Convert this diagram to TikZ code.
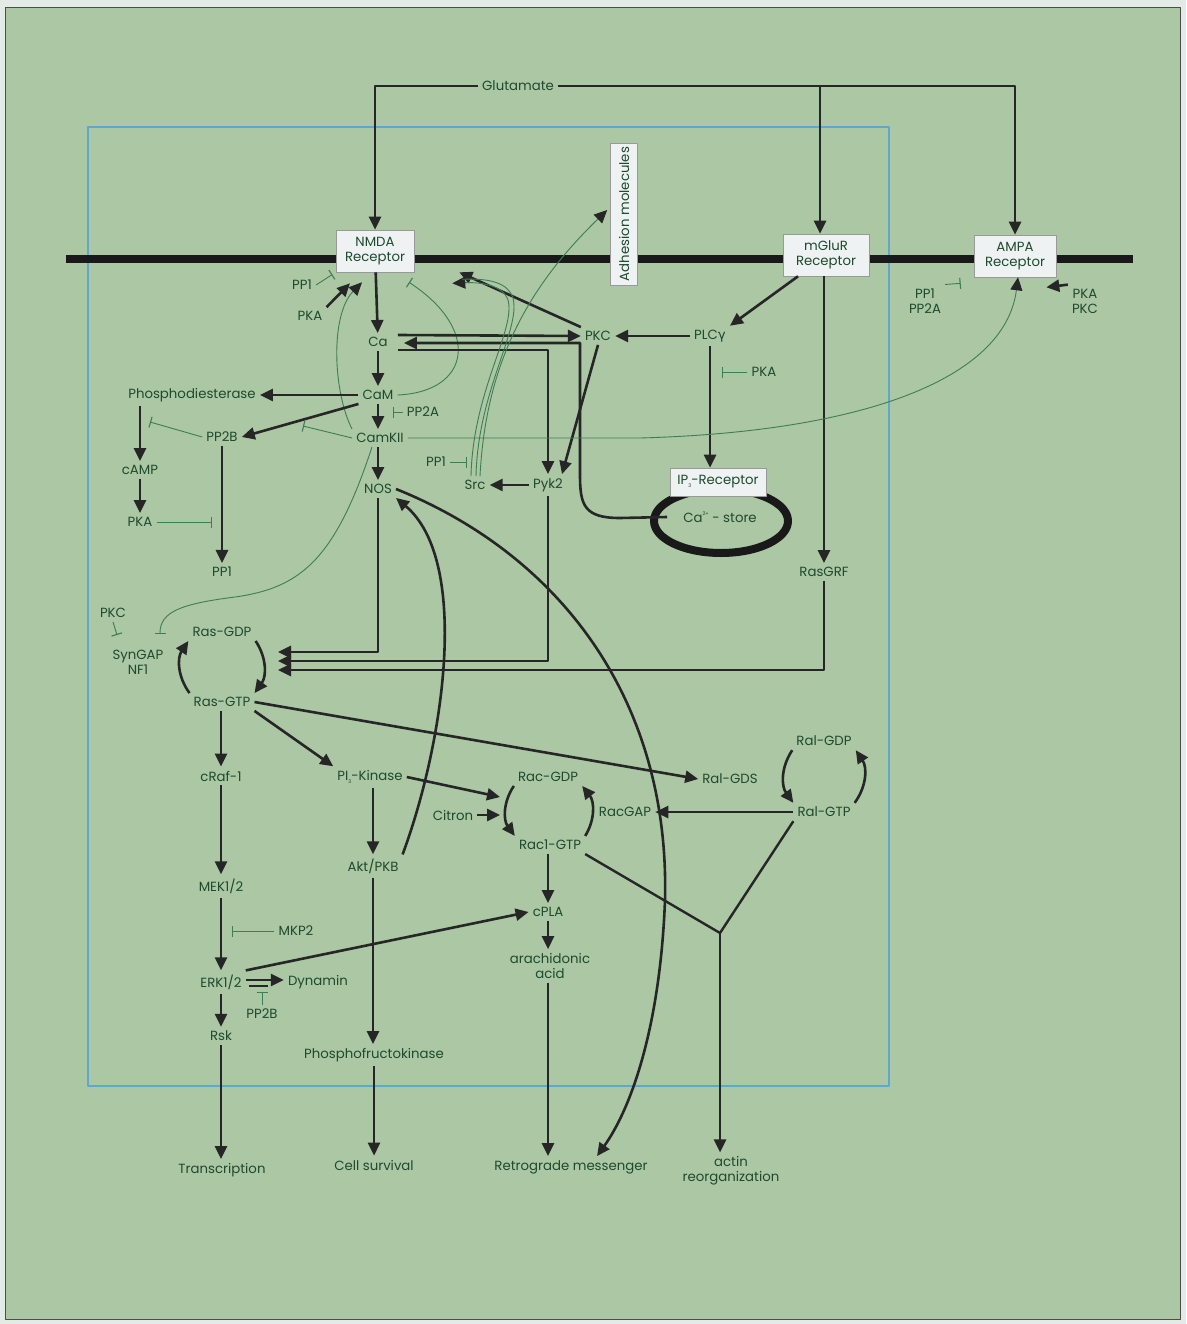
\documentclass[tikz,border=0pt]{standalone}
\usepackage{fontspec}
\setmainfont{Poppins}
\newfontfamily\greekfont{DejaVu Sans}
\usetikzlibrary{arrows.meta,positioning}

\definecolor{bgouter}{HTML}{E4EBE6}
\definecolor{bggreen}{HTML}{ABC7A4}
\definecolor{txtgreen}{HTML}{1F4A2E}
\definecolor{thingreen}{HTML}{3F7D55}
\definecolor{cellblue}{HTML}{5DA8CF}
\definecolor{boxfill}{HTML}{EEF2F3}

\newcommand{\lowidx}[1]{\raisebox{-0.4ex}{\fontsize{5}{5}\selectfont #1}}
\newcommand{\upidx}[1]{\raisebox{0.9ex}{\fontsize{5}{5}\selectfont #1}}

\tikzset{
  mol/.style={font=\fontsize{13.3}{15}\selectfont, text=txtgreen, inner sep=4pt, align=center},
  rec/.style={mol, draw=gray!80, fill=boxfill, line width=0.6pt, inner sep=2pt, minimum height=42pt},
  act/.style={draw=black!85, line width=2.6pt, -{Triangle[length=13pt,width=12pt]}},
  plain/.style={draw=black!85, line width=2.4pt},
  inh/.style={draw=thingreen, line width=0.9pt, -{Bar[width=11pt,line width=1.1pt]}},
  mod/.style={draw=thingreen, line width=0.9pt, -{Triangle[length=13pt,width=12pt,color=black!85]}}
}

\begin{document}
\begin{tikzpicture}[x=1pt, y=-1pt, line join=round]
  % background
  \useasboundingbox (0,0) rectangle (1186,1324);
  \fill[bgouter] (0,0) rectangle (1186,1324);
  \filldraw[fill=bggreen, draw=gray!60!black, line width=0.8pt] (5,7) rectangle (1180,1319);

  % cell and membrane
  \draw[cellblue, line width=2.4pt] (88,127) rectangle (889,1086);
  \draw[black!90, line width=8pt] (66,259) -- (1133,259);

  % receptors
  \node[rec, minimum width=78pt] (nmda) at (375,251) {NMDA\\Receptor};
  \node[rec, minimum width=86pt] (mglur) at (826,255) {mGluR\\Receptor};
  \node[rec, minimum width=82pt] (ampa) at (1015,256) {AMPA\\Receptor};
  \node[rec, rotate=90, minimum height=27pt, minimum width=142pt, inner sep=1pt] (adh) at (624,214) {Adhesion molecules};

  % glutamate
  \node[mol] (glu) at (518,86) {Glutamate};
  \draw[act] (glu.west) -| (nmda.north);
  \draw[act] (glu.east) -| (ampa.north);
  \draw[act] (glu.east -| mglur.north) ++(-6,0) -- ([shift={(-6,0)}]mglur.north);

  % Ca2+ store
  \draw[black!90, line width=8pt] (721,521) ellipse [x radius=67, y radius=32];
  \node[rec, minimum height=28pt, minimum width=96pt] (ip3) at (718,482) {IP\lowidx{3}-Receptor};
  \node[mol] (store) at (720,517) {Ca\upidx{2+} - store};

  % molecules
  \node[mol] (pp1a) at (302,285) {PP1};
  \node[mol] (pka1) at (310,316) {PKA};
  \node[mol] (ca) at (378,342) {Ca};
  \node[mol] (cam) at (378,395) {CaM};
  \node[mol] (pp2a) at (423,412) {PP2A};
  \node[mol] (camk) at (380,438) {CamKII};
  \node[mol] (nos) at (378,489) {NOS};
  \node[mol] (pde) at (192,395) {Phosphodiesterase};
  \node[mol] (pp2b) at (222,437) {PP2B};
  \node[mol] (camp) at (140,470) {cAMP};
  \node[mol] (pka2) at (140,522) {PKA};
  \node[mol] (pp1b) at (222,572) {PP1};
  \node[mol] (pkc) at (598,336) {PKC};
  \node[mol] (plc) at (710,336) {PLC{\greekfont γ}};
  \node[mol] (pka3) at (764,372) {PKA};
  \node[mol] (pp1c) at (436,462) {PP1};
  \node[mol] (src) at (475,485) {Src};
  \node[mol] (pyk) at (548,485) {Pyk2};
  \node[mol] (rasgrf) at (824,572) {RasGRF};
  \node[mol] (pkc2) at (113,613) {PKC};
  \node[mol] (syngap) at (138,662) {SynGAP\\NF1};
  \node[mol] (rasgdp) at (222,632) {Ras-GDP};
  \node[mol] (rasgtp) at (222,702) {Ras-GTP};
  \node[mol] (craf) at (221,776) {cRaf-1};
  \node[mol] (mek) at (221,886) {MEK1/2};
  \node[mol] (mkp) at (296,931) {MKP2};
  \node[mol] (erk) at (221,982) {ERK1/2};
  \node[mol] (dyn) at (318,982) {Dynamin};
  \node[mol] (pp2bb) at (262,1014) {PP2B};
  \node[mol] (rsk) at (221,1036) {Rsk};
  \node[mol] (pi3k) at (370,777) {PI\lowidx{3}-Kinase};
  \node[mol] (akt) at (373,866) {Akt/PKB};
  \node[mol] (pfk) at (374,1055) {Phosphofructokinase};
  \node[mol] (cit) at (453,815) {Citron};
  \node[mol] (racgdp) at (548,777) {Rac-GDP};
  \node[mol] (rac1) at (550,845) {Rac1-GTP};
  \node[mol] (racgap) at (625,812) {RacGAP};
  \node[mol] (ralgds) at (730,779) {Ral-GDS};
  \node[mol] (ralgdp) at (824,741) {Ral-GDP};
  \node[mol] (ralgtp) at (824,812) {Ral-GTP};
  \node[mol] (cpla) at (548,912) {cPLA};
  \node[mol] (arach) at (550,966) {arachidonic\\acid};
  \node[mol] (trans) at (222,1170) {Transcription};
  \node[mol] (surv) at (374,1165) {Cell survival};
  \node[mol] (retro) at (571,1167) {Retrograde messenger};
  \node[mol] (actin) at (731,1171) {actin\\reorganization};
  \node[mol] (pp1d) at (925,301) {PP1\\PP2A};
  \node[mol] (pkad) at (1085,301) {PKA\\PKC};

  % free ends
  \coordinate (pp2aT) at (393,412);
  \coordinate (camkT) at (303,426);
  \coordinate (pdeT) at (150,422);
  \coordinate (pkaT) at (212,522);
  \coordinate (pka3T) at (722,372);
  \coordinate (pp1cT) at (467,462);
  \coordinate (synT) at (160,634);
  \coordinate (rasA) at (278,652);
  \coordinate (rasB) at (278,661);
  \coordinate (rasC) at (278,670);
  \coordinate (racA) at (500,797);
  \coordinate (racB) at (500,815);
  \coordinate (mkpT) at (232,931);
  \coordinate (actj) at (720,933);

  % NMDA regulation
  \draw[inh, shorten >=4pt] (pp1a.east) -- (nmda.south west);
  \draw[act] (pka1.north east) -- ([shift={(-25,11)}]nmda.south);
  \draw[act] (nmda) -- (ca);
  \draw[mod] (camk.north west) .. controls (333,392) and (330,315) .. ([shift={(-13,10)}]nmda.south);
  \draw[inh] (cam.east) .. controls (470,392) and (482,330) .. ([shift={(34,10)}]nmda.south);
  \draw[act] (pkc.north west) -- ([shift={(45,0)}]nmda.south east);

  % Ca / CaM / CamKII
  \draw[act] (ca) -- (cam);
  \draw[act] (cam) -- (cam |- camk.north);
  \draw[act] (camk.south -| nos) -- (nos);
  \draw[inh] (pp2a) -- (pp2aT);
  \draw[act] (cam) -- (pde);
  \draw[act] (cam.south west) -- (pp2b.east);
  \draw[inh] (camk.west) -- (camkT);
  \draw[inh] (pp2b.west) -- (pdeT);
  \draw[act] (camp |- pde.south) -- (camp);
  \draw[act] (camp) -- (pka2);
  \draw[inh] (pka2) -- (pkaT);
  \draw[act] (pp2b) -- (pp1b);

  % PKC, Pyk2, Src
  \draw[act] ([shift={(6,-7)}]ca.east) -- (pkc.west);
  \draw[act] ([shift={(-12,0)}]store.west) -- (620,518) .. controls (584,518) and (580,505) .. (580,475) -- (580,343) -- ([shift={(12,1)}]ca.east);
  \draw[act] ([shift={(6,8)}]ca.east) -| (pyk.north);
  \draw[act] (pkc.south) -- ([shift={(14,0)}]pyk.north);
  \draw[act] (pyk) -- (src);
  \draw[mod] ([shift={(-4,0)}]src.north) .. controls (473,390) and (516,330) .. (508,300) .. controls (503,285) and (480,282) .. ([shift={(38,11)}]nmda.south east);
  \draw[thingreen, line width=0.9pt] ([shift={(1,0)}]src.north) .. controls (478,390) and (521,330) .. (513,298) .. controls (508,283) and (490,278) .. ([shift={(48,7)}]nmda.south east);
  \draw[mod] ([shift={(5,0)}]src.north) .. controls (486,360) and (530,285) .. ([shift={(-3,-4)}]adh.north);
  \draw[inh] (pp1c) -- (pp1cT);

  % mGluR branch
  \draw[act] ([shift={(-28,0)}]mglur.south) -- (plc.north east);
  \draw[act] (plc) -- (pkc);
  \draw[inh] (pka3) -- (pka3T);
  \draw[act] (plc.south) -- (plc.south |- ip3.north);
  \draw[act] (rasgrf |- mglur.south) -- (rasgrf);

  % AMPA regulation
  \draw[mod] (camk.east) -- (640,438) .. controls (860,432) and (1005,380) .. ([shift={(3,0)}]ampa.south);
  \draw[inh] (pp1d.north east) -- ([shift={(-13,6)}]ampa.south west);
  \draw[act] (pkad.north west) -- ([shift={(-10,10)}]ampa.south east);

  % Ras activation
  \draw[inh] ([shift={(-8,0)}]camk.south) .. controls (335,560) and (300,588) .. (235,597) .. controls (180,604) and (160,612) .. (synT);
  \draw[inh] (pkc2.south) -- (117,635);
  \draw[act] (nos.south) |- (rasA);
  \draw[act] (pyk.south) |- (rasB);
  \draw[act] (rasgrf.south) |- (rasC);
  \draw[act] (rasgdp.south east) to[bend left=35] (rasgtp.north east);
  \draw[act] (rasgtp.north west) to[bend left=35] (rasgdp.south west);

  % MAPK cascade
  \draw[act] (rasgtp.south -| craf) -- (craf);
  \draw[act] (craf) -- (mek);
  \draw[act] (mek) -- (erk);
  \draw[inh] (mkp) -- (mkpT);
  \draw[act] (erk) -- (rsk);
  \draw[act] (rsk) -- (rsk |- trans.north);
  \draw[act] ([shift={(0,-2)}]erk.east) -- ([shift={(0,-2)}]dyn.west);
  \draw[black!85, line width=1.4pt] ([shift={(3,4)}]erk.east) -- ++(19,0);
  \draw[inh] (pp2bb.north) -- ++(0,-13);
  \draw[act] (erk.north east) -- (cpla.west);

  % PI3K branch
  \draw[act] (rasgtp.south east) -- (pi3k.north west);
  \draw[act] (pi3k.east) -- (racA);
  \draw[act] (cit) -- (racB);
  \draw[act] (akt |- pi3k.south) -- (akt);
  \draw[act] (akt.north east) .. controls (445,740) and (470,560) .. (nos.south east);
  \draw[act] (akt) -- (akt |- pfk.north);
  \draw[act] (pfk) -- (surv);

  % NOS to retrograde messenger
  \draw[act] (nos.east) .. controls (560,555) and (670,700) .. (665,900) .. controls (660,1030) and (630,1110) .. ([shift={(26,0)}]retro.north);

  % Ral and Rac
  \draw[act] (rasgtp.east) -- (ralgds.west);
  \draw[act] (ralgdp.south west) to[bend right=35] (ralgtp.north west);
  \draw[act] (ralgtp.north east) to[bend right=35] (ralgdp.south east);
  \draw[act] (ralgtp) -- (racgap);
  \draw[act] (racgdp.south west) to[bend right=35] (rac1.north west);
  \draw[act] (rac1.north east) to[bend right=35] (racgdp.south east);
  \draw[act] (cpla |- rac1.south) -- (cpla);
  \draw[act] (cpla) -- (cpla |- arach.north);
  \draw[act] (cpla |- arach.south) -- (cpla |- retro.north);

  % actin
  \draw[plain] (rac1.south east) -- (actj);
  \draw[plain] (ralgtp.south west) -- (actj);
  \draw[act] (actj) -- (actj |- actin.north);
\end{tikzpicture}
\end{document}
